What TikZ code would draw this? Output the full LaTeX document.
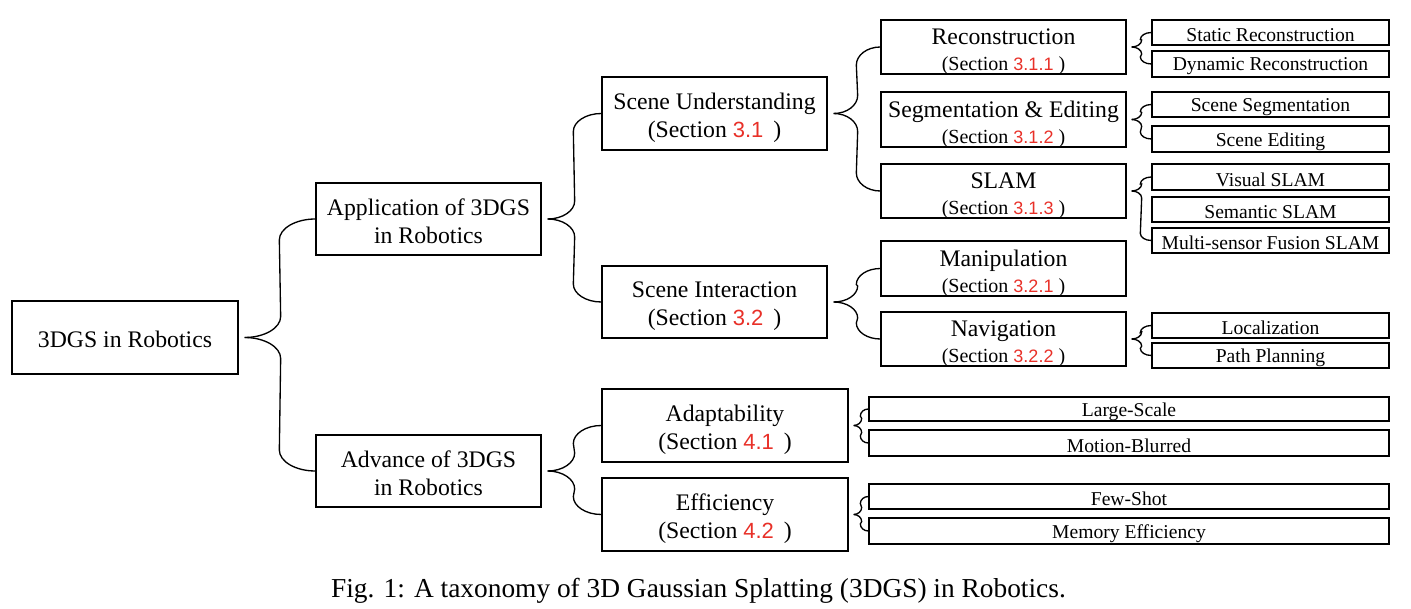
\documentclass[tikz,border=0pt]{standalone}
\usepackage{fontspec}
\usepackage{graphicx}
\setmainfont{Liberation Serif}
\newfontfamily\secfont{Liberation Sans}
\usetikzlibrary{calc}
\definecolor{secred}{RGB}{232,48,40}
\newcommand\secn[2]{{\secfont\fontsize{#1}{#1}\selectfont\color{secred}#2}}
\newcommand\bx[8]{%
  \node[#7, minimum width={(#4-#2)*0.75pt}, minimum height={(#5-#3)*0.75pt}] (#1) at ({(#2+#4)/2},{(#3+#5)/2}) {};
  \node[#7, draw=none, minimum width=0pt, minimum height=0pt] (#1t) at ($(#1.center)+(0,#8)$) {#6};}
\newcommand\arm[5]{\draw[conn] (#1) .. controls ($(#1)+({0.55*(#3)},0)$) and ($(#1)+({#3},{-0.45*(#5)})$) .. ($(#1)+({#3},{-1*(#5)})$) -- ($(#2)+({-1*(#4)},{#5})$) .. controls ($(#2)+({-1*(#4)},{0.45*(#5)})$) and ($(#2)+({-0.55*(#4)},0)$) .. (#2);}
\begin{document}
\begin{tikzpicture}[x=0.75pt,y=-0.75pt,
  box/.style={draw=black, line width=1pt, inner sep=0pt, align=center},
  big/.style={box, font=\fontsize{17.8}{21}\selectfont},
  mid/.style={box, font=\fontsize{17.8}{19.5}\selectfont},
  small/.style={box, font=\fontsize{14.7}{16}\selectfont},
  conn/.style={line width=1pt}]
\useasboundingbox (0,0) rectangle (1411,609);
% level 1
\bx{root}{12}{301}{238}{374}{3DGS in Robotics}{big}{2}
% level 2
\bx{app}{316}{183}{541}{255}{Application of 3DGS\\in Robotics}{big}{2}
\bx{adv}{316}{435}{541}{507}{Advance of 3DGS\\in Robotics}{big}{2}
% level 3
\bx{su}{602}{77}{827}{150}{Scene Understanding\\(Section \secn{16.5}{3.1}\, )}{big}{4}
\bx{si}{602}{266}{827}{338}{Scene Interaction\\(Section \secn{16.5}{3.2}\, )}{big}{4}
\bx{ada}{602}{389}{848}{462}{Adaptability\\(Section \secn{16.5}{4.1}\, )}{big}{4}
\bx{eff}{602}{478}{848}{551}{Efficiency\\(Section \secn{16.5}{4.2}\, )}{big}{4}
% level 4
\bx{rec}{881}{20}{1126}{74}{Reconstruction\\{\fontsize{15}{19.5}\selectfont (Section \secn{13.5}{3.1.1} )}}{mid}{5}
\bx{seg}{881}{92}{1126}{147}{Segmentation \& Editing\\{\fontsize{15}{19.5}\selectfont (Section \secn{13.5}{3.1.2} )}}{mid}{5}
\bx{slam}{881}{164}{1126}{218}{SLAM\\{\fontsize{15}{19.5}\selectfont (Section \secn{13.5}{3.1.3} )}}{mid}{5}
\bx{man}{881}{241}{1126}{296}{Manipulation\\{\fontsize{15}{19.5}\selectfont (Section \secn{13.5}{3.2.1} )}}{mid}{5}
\bx{nav}{881}{312}{1126}{366}{Navigation\\{\fontsize{15}{19.5}\selectfont (Section \secn{13.5}{3.2.2} )}}{mid}{5}
% level 5
\bx{static}{1152}{20}{1389}{45}{Static Reconstruction}{small}{2.5}
\bx{dyn}{1152}{51}{1389}{77}{Dynamic Reconstruction}{small}{2.5}
\bx{sseg}{1152}{92}{1389}{117}{Scene Segmentation}{small}{2.5}
\bx{sedit}{1152}{126}{1389}{152}{Scene Editing}{small}{2.5}
\bx{vis}{1152}{164}{1389}{190}{Visual SLAM}{small}{2.5}
\bx{sem}{1152}{197}{1389}{222}{Semantic SLAM}{small}{2.5}
\bx{multi}{1152}{228}{1389}{253}{Multi-sensor Fusion SLAM}{small}{2.5}
\bx{loc}{1152}{313}{1389}{338}{Localization}{small}{2.5}
\bx{path}{1152}{343}{1389}{368}{Path Planning}{small}{2.5}
\bx{large}{869}{397}{1389}{421}{Large-Scale}{small}{2.5}
\bx{motion}{869}{430}{1389}{456}{Motion-Blurred}{small}{2.5}
\bx{few}{869}{484}{1389}{509}{Few-Shot}{small}{2.5}
\bx{mem}{869}{518}{1389}{544}{Memory Efficiency}{small}{2.5}
% brace tips
\coordinate (troot) at ($(root.east)+(6,0)$);
\coordinate (tapp) at ($(app.east)+(6,0)$);
\coordinate (tadv) at ($(adv.east)+(6,0)$);
\coordinate (tsu) at ($(su.east)+(6,0)$);
\coordinate (tsi) at ($(si.east)+(6,0)$);
\coordinate (tada) at ($(ada.east)+(5,0)$);
\coordinate (teff) at ($(eff.east)+(5,0)$);
\coordinate (trec) at ($(rec.east)+(5,0)$);
\coordinate (tseg) at ($(seg.east)+(5,0)$);
\coordinate (tslam) at ($(slam.east)+(5,0)$);
\coordinate (tnav) at ($(nav.east)+(5,0)$);
% braces
\arm{troot}{app.west}{36}{36}{21}
\arm{troot}{adv.west}{36}{36}{-21}
\arm{tapp}{su.west}{27}{28}{18}
\arm{tapp}{si.west}{27}{28}{-18}
\arm{tadv}{ada.west}{27}{28}{18}
\arm{tadv}{eff.west}{27}{28}{-18}
\arm{tsu}{rec.west}{24}{24}{18}
\arm{tsu}{slam.west}{24}{24}{-18}
\arm{tsi}{man.west}{24}{24}{16}
\arm{tsi}{nav.west}{24}{24}{-16}
\arm{trec}{static.west}{10}{11}{7}
\arm{trec}{dyn.west}{10}{11}{-7}
\arm{tseg}{sseg.west}{10}{11}{7}
\arm{tseg}{sedit.west}{10}{11}{-7}
\arm{tslam}{vis.west}{10}{11}{7}
\arm{tslam}{multi.west}{10}{11}{-7}
\arm{tnav}{loc.west}{10}{11}{7}
\arm{tnav}{path.west}{10}{11}{-7}
\arm{tada}{large.west}{8}{8}{7}
\arm{tada}{motion.west}{8}{8}{-7}
\arm{teff}{few.west}{8}{8}{7}
\arm{teff}{mem.west}{8}{8}{-7}
% caption
\node[anchor=base, inner sep=0pt] (cap) at (698.5,597) {\resizebox{551pt}{!}{Fig. 1: A taxonomy of 3D Gaussian Splatting (3DGS) in Robotics.}};
\end{tikzpicture}
\end{document}
